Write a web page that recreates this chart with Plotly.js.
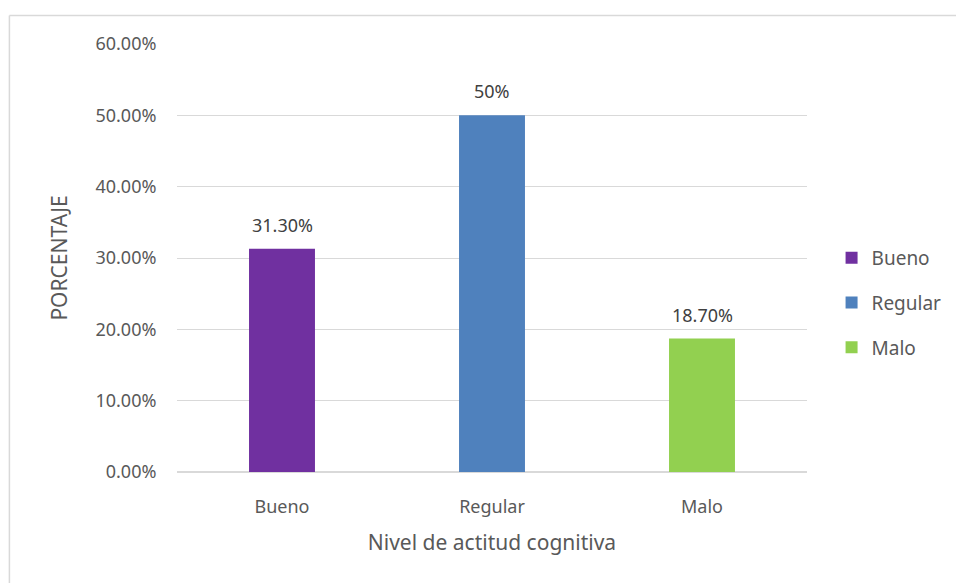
<!DOCTYPE html>
<html><head><meta charset="utf-8">
<script src="https://cdn.plot.ly/plotly-3.0.1.min.js"></script>
<style>body{margin:0;background:#fff}#c{width:956px;height:583px}</style>
</head><body><div id="c"></div>
<script>
const categories = ["Bueno", "Regular", "Malo"];
const values = [31.3, 50, 18.7];
const labels = ["31.30%", "50%", "18.70%"];
const colors = ["#7030A0", "#4F81BD", "#92D050"];
const yTicks = [0, 10, 20, 30, 40, 50, 60];
const yTickText = ["0.00%", "10.00%", "20.00%", "30.00%", "40.00%", "50.00%", "60.00%"];

const font = {family: "Noto Sans, Open Sans, sans-serif", color: "#595959"};
const traces = categories.map((c, i) => ({
  type: "bar", name: c, x: [c], y: [values[i]],
  marker: {color: colors[i]}, width: 0.314, legendgroup: "g" + i,
  hoverinfo: "x+y"
}));
const annotations = categories.map((c, i) => ({
  x: c, y: values[i], xref: "x", yref: "y", text: labels[i], showarrow: false,
  yanchor: "middle", yshift: 24, font: {family: font.family, color: "#404040", size: 18}
}));
const layout = {
  width: 956, height: 583, barmode: "overlay",
  paper_bgcolor: "#fff", plot_bgcolor: "#fff",
  margin: {l: 177, r: 149, t: 44, b: 111, autoexpand: false},
  font: {family: font.family, color: "#595959", size: 18},
  xaxis: {categoryorder: "array", categoryarray: categories, showline: false,
    tickfont: {size: 18, color: "#595959"}, ticks: "outside", ticklen: 18, tickcolor: "rgba(0,0,0,0)",
    title: {text: "Nivel de actitud cognitiva", font: {size: 21, color: "#595959"}, standoff: 18}},
  yaxis: {range: [0, 60], tickvals: yTicks, ticktext: yTickText, gridcolor: "#d9d9d9",
    gridwidth: 1, zeroline: true, zerolinecolor: "#d9d9d9", zerolinewidth: 1.5,
    tickfont: {size: 18, color: "#595959"}, ticks: "outside", ticklen: 16, tickcolor: "rgba(0,0,0,0)",
    title: {text: "PORCENTAJE", font: {size: 21, color: "#595959"}, standoff: 22}},
  legend: {x: 1.039, y: 0.395, yanchor: "middle", xanchor: "left", tracegroupgap: 17,
    font: {size: 19, color: "#595959"}, itemwidth: 20},
  showlegend: true,
  annotations: annotations,
  shapes: [{type: "line", xref: "paper", yref: "paper", x0: -0.266, x1: 1.3, y0: 1.0666, y1: 1.0666,
            line: {color: "#d9d9d9", width: 1.5}},
           {type: "line", xref: "paper", yref: "paper", x0: -0.266, x1: -0.266, y0: 1.0666, y1: -0.3,
            line: {color: "#d9d9d9", width: 1.5}}]
};
Plotly.newPlot("c", traces, layout, {displayModeBar: false, staticPlot: true});
</script></body></html>
